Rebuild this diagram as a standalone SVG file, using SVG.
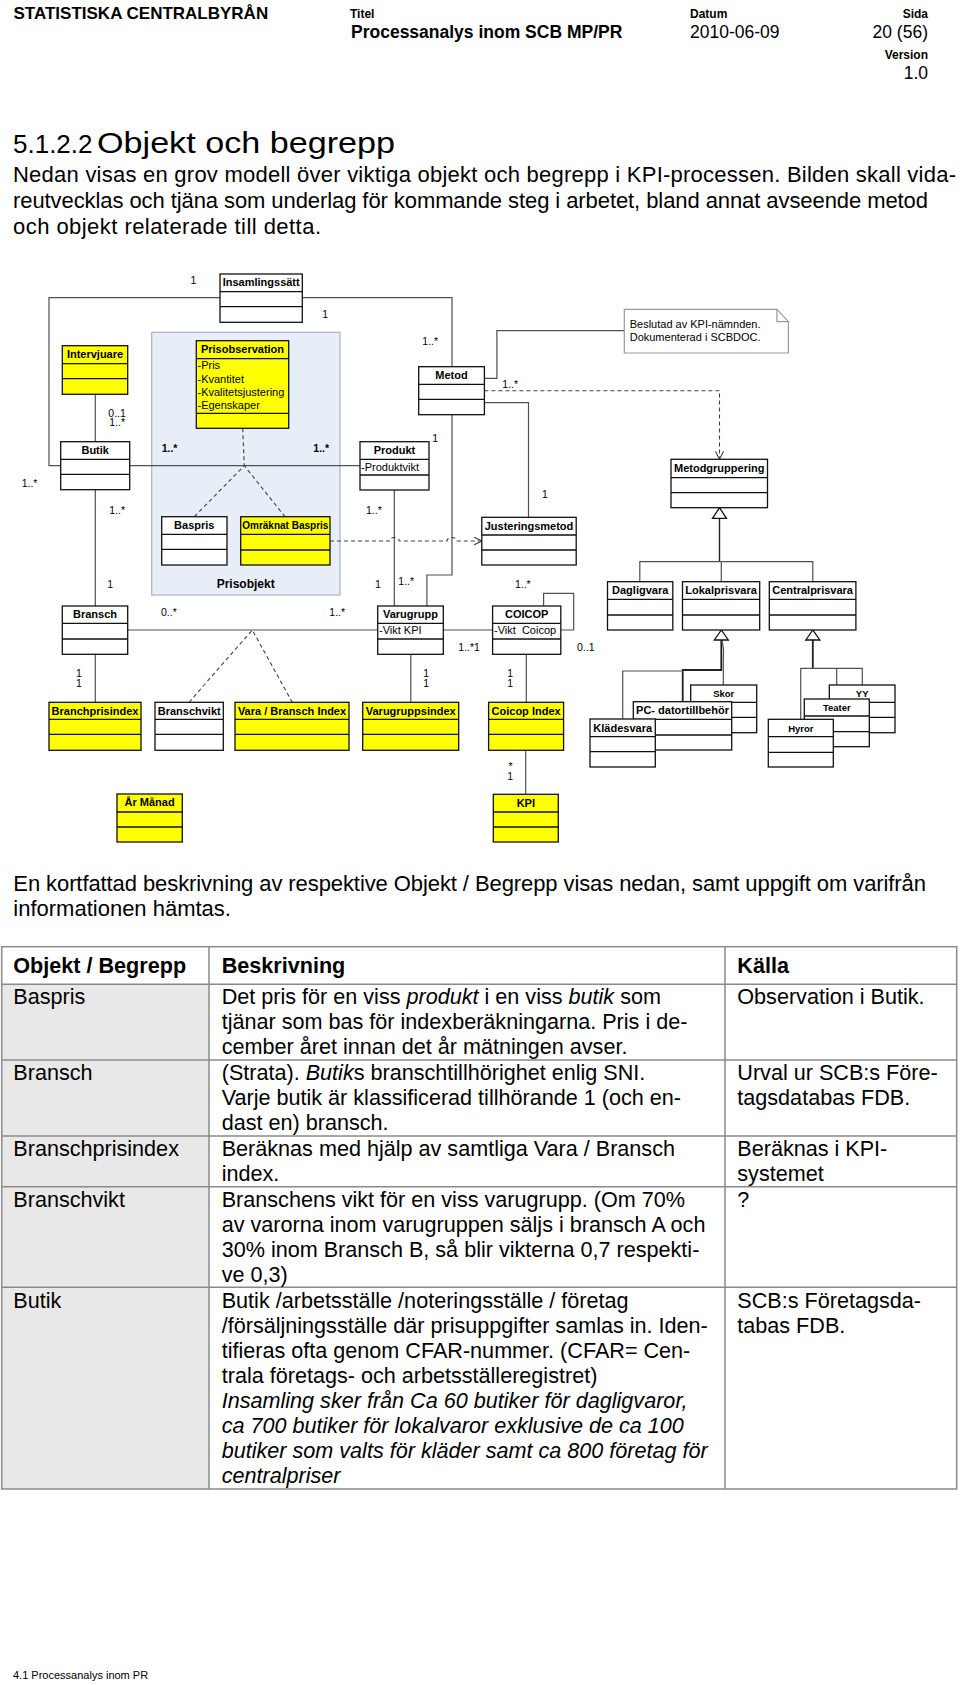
<svg xmlns="http://www.w3.org/2000/svg" width="960" height="1685" viewBox="0 0 960 1685">
<style>
text{font-family:'Liberation Sans',Arial,sans-serif;fill:#000}
.b{stroke:#111;stroke-width:1.3}
.w{fill:#fff}
.y{fill:#ffff00}
.dv{fill:none;stroke:#111;stroke-width:1.3}
.cl{fill:none;stroke:#505050;stroke-width:1.2}
.dl{fill:none;stroke:#404040;stroke-width:1.1;stroke-dasharray:4 3}
.hd{font-size:11px;font-weight:bold;text-anchor:middle}
.hs{font-size:9.5px;font-weight:bold;text-anchor:middle}
.at{font-size:11px;white-space:pre}
.m{font-size:10.5px}
.mb{font-size:10.5px;font-weight:bold}
.t{font-size:21.6px}
.p{font-size:22px}
.tb{font-size:21.6px;font-weight:bold}
.i{font-style:italic}
.tl{stroke:#8a8a8a;stroke-width:1.5;fill:none}
</style>
<defs>
<marker id="oa" markerWidth="10" markerHeight="10" refX="8" refY="4" orient="auto" markerUnits="userSpaceOnUse">
<path d="M0,0 L8,4 L0,8" fill="none" stroke="#404040" stroke-width="1.1"/>
</marker>
</defs>
<rect width="960" height="1685" fill="#fff"/>

<!-- page header -->
<g id="page-header">
<text x="13.5" y="19" style="font-size:17px;font-weight:bold">STATISTISKA CENTRALBYRÅN</text>
<text x="350" y="18" style="font-size:12px;font-weight:bold">Titel</text>
<text x="351" y="37.5" style="font-size:17.5px;font-weight:bold">Processanalys inom SCB MP/PR</text>
<text x="690" y="18" style="font-size:12px;font-weight:bold">Datum</text>
<text x="690" y="37.5" style="font-size:17.5px">2010-06-09</text>
<text x="928" y="18" style="font-size:12px;font-weight:bold;text-anchor:end">Sida</text>
<text x="928" y="37.5" style="font-size:17.5px;text-anchor:end">20 (56)</text>
<text x="928" y="59" style="font-size:12px;font-weight:bold;text-anchor:end">Version</text>
<text x="928" y="79" style="font-size:17.5px;text-anchor:end">1.0</text>
</g>

<g id="intro">
<text x="13" y="153" style="font-size:26px">5.1.2.2</text>
<text x="97" y="153" style="font-size:29px" textLength="298" lengthAdjust="spacingAndGlyphs">Objekt och begrepp</text>
<text x="13" y="182" class="p" textLength="943" lengthAdjust="spacing">Nedan visas en grov modell över viktiga objekt och begrepp i KPI-processen. Bilden skall vida-</text>
<text x="13" y="208" class="p" textLength="915" lengthAdjust="spacing">reutvecklas och tjäna som underlag för kommande steg i arbetet, bland annat avseende metod</text>
<text x="13" y="234" class="p" textLength="308" lengthAdjust="spacing">och objekt relaterade till detta.</text>
</g>

<!-- package -->
<g id="prisobjekt-package">
<rect x="151.7" y="332.3" width="188.3" height="262.7" fill="#e8eef8" stroke="#a9b1c2" stroke-width="1.2"/>
<text x="245.7" y="588" style="font-size:12px;font-weight:bold;text-anchor:middle">Prisobjekt</text>
</g>

<!-- connectors -->
<g id="connectors">
<path class="cl" d="M220,297.7 H49 V465.7 H60.7"/>
<path class="cl" d="M302.3,297.7 H452 V366.7"/>
<path class="cl" d="M95.3,394.3 V441.7"/>
<path class="cl" d="M129.7,465.7 H360"/>
<path class="cl" d="M484.4,378.3 H496.9 V330.7 H624.3"/>
<path class="cl" d="M484.4,402.7 H528.5 V517.3"/>
<path class="dl" d="M484.4,390.7 H719.5 V459.3" marker-end="url(#oa)"/>
<path class="cl" d="M452,414.7 V575 H426.9 V606"/>
<path class="cl" d="M394.3,490 V606"/>
<path class="cl" d="M95.3,489.7 V606"/>
<path class="dl" d="M330,541 H389.3 a5,3.5 0 0 1 10,0 H447 a5,3.5 0 0 1 10,0 H481.8" marker-end="url(#oa)"/>
<path class="dl" d="M242.7,428.3 L244.3,465.7 M194.3,516.7 L244.3,465.7 L285,516.7"/>
<path class="cl" d="M127.7,630 H377.7"/>
<path class="cl" d="M443.3,630 H492.6"/>
<path class="cl" d="M543.6,606 V593.3 H573.7 V630 H560.8"/>
<path class="dl" d="M189,702.3 L252.3,630 L292.3,702.3"/>
<path class="cl" d="M95.3,654.3 V702.3"/>
<path class="cl" d="M410.8,654.3 V702.3"/>
<path class="cl" d="M526.3,654.3 V702.3"/>
<path class="cl" d="M525.7,750.3 V794.3"/>
<path class="cl" style="stroke:#222;stroke-width:1.4" d="M719.5,518.3 V561.7"/>
<path class="cl" d="M639.8,581.7 V561.7 H812.8 V581.7 M721.3,561.7 V581.7"/>
<path class="cl" style="stroke:#222;stroke-width:1.8" d="M721.3,640 V670 H682.7 V701.7"/>
<path class="cl" d="M682.7,671 H622.7 V719"/>
<path class="cl" d="M722,640 Q724.5,650 723.3,660 V685"/>
<path class="cl" style="stroke:#222;stroke-width:1.8" d="M812.8,640 V668.3"/>
<path class="cl" d="M800.7,719.3 V668.3 H862.3 V685 M836.7,668.3 V699"/>
<polygon points="719.5,507.7 712.5,518.3 726.5,518.3" fill="#fff" stroke="#111" stroke-width="1.3"/>
<polygon points="721.3,630 714.3,640 728.3,640" fill="#fff" stroke="#111" stroke-width="1.3"/>
<polygon points="812.8,630 805.8,640 819.8,640" fill="#fff" stroke="#111" stroke-width="1.3"/>
</g>

<!-- multiplicities -->
<g id="multiplicities">
<text class="m" x="190.5" y="284">1</text>
<text class="m" x="322.3" y="318">1</text>
<text class="m" x="108.3" y="416.7">0..1</text>
<text class="m" x="109.3" y="426">1..*</text>
<text class="mb" x="161.7" y="452.3">1..*</text>
<text class="mb" x="313.3" y="452.3">1..*</text>
<text class="m" x="432.2" y="441.7">1</text>
<text class="m" x="21.7" y="486.7">1..*</text>
<text class="m" x="109.3" y="514">1..*</text>
<text class="m" x="366" y="514">1..*</text>
<text class="m" x="422.3" y="345">1..*</text>
<text class="m" x="502.3" y="388.3">1..*</text>
<text class="m" x="541.9" y="498.3">1</text>
<text class="m" x="107.2" y="588.3">1</text>
<text class="m" x="161" y="615.7">0..*</text>
<text class="m" x="329.3" y="615.7">1..*</text>
<text class="m" x="374.9" y="588.3">1</text>
<text class="m" x="398.3" y="585">1..*</text>
<text class="m" x="514.9" y="588.3">1..*</text>
<text class="m" x="458.3" y="651">1..*1</text>
<text class="m" x="577" y="651">0..1</text>
<text class="m" x="75.9" y="676.7">1</text>
<text class="m" x="75.9" y="686.7">1</text>
<text class="m" x="423.2" y="676.7">1</text>
<text class="m" x="423.2" y="686.7">1</text>
<text class="m" x="507.2" y="676.7">1</text>
<text class="m" x="507.2" y="686.7">1</text>
<text class="m" x="508.5" y="770">*</text>
<text class="m" x="507.2" y="780">1</text>
</g>

<!-- note -->
<g id="note">
<path d="M624.3,309.3 H776.9 L788.4,321.7 V353 H624.3 Z" fill="#fff" stroke="#9a9a9a" stroke-width="1.2"/>
<path d="M776.9,309.3 V321.7 H788.4" fill="none" stroke="#9a9a9a" stroke-width="1.2"/>
<text class="at" x="629.7" y="327.7">Beslutad av KPI-nämnden.</text>
<text class="at" x="629.7" y="341">Dokumenterad i SCBDOC.</text>
</g>

<!-- classes -->
<g id="insamlingssatt"><rect class="b w" x="220" y="274" width="82.3" height="48.3"/><path class="dv" d="M220,291.7 H302.3 M220,306.7 H302.3"/><text class="hd" x="261.2" y="286.3">Insamlingssätt</text></g>
<g id="intervjuare"><rect class="b y" x="62.3" y="345.7" width="65.4" height="48.6"/><path class="dv" d="M62.3,363.7 H127.7 M62.3,378.7 H127.7"/><text class="hd" x="95" y="358">Intervjuare</text></g>
<g id="prisobservation"><rect class="b y" x="196.3" y="340.7" width="92.4" height="87.6"/><path class="dv" d="M196.3,358.7 H288.7 M196.3,413.3 H288.7"/><text class="hd" x="242.5" y="353.3">Prisobservation</text>
<text class="at" x="197.5" y="369.3">-Pris</text><text class="at" x="197.5" y="382.6">-Kvantitet</text><text class="at" x="197.5" y="395.9">-Kvalitetsjustering</text><text class="at" x="197.5" y="409">-Egenskaper</text></g>
<g id="metod"><rect class="b w" x="418.7" y="366.7" width="65.7" height="48"/><path class="dv" d="M418.7,384.3 H484.4 M418.7,399.3 H484.4"/><text class="hd" x="451.5" y="379">Metod</text></g>
<g id="butik"><rect class="b w" x="60.7" y="441.7" width="69" height="48"/><path class="dv" d="M60.7,459.3 H129.7 M60.7,474.3 H129.7"/><text class="hd" x="95.2" y="454">Butik</text></g>
<g id="produkt"><rect class="b w" x="360" y="441.7" width="69" height="48.3"/><path class="dv" d="M360,459.3 H429 M360,475 H429"/><text class="hd" x="394.5" y="454">Produkt</text><text class="at" x="361" y="470.7">-Produktvikt</text></g>
<g id="metodgruppering"><rect class="b w" x="671" y="459.3" width="96.5" height="48.4"/><path class="dv" d="M671,477.7 H767.5 M671,492.7 H767.5"/><text class="hd" x="719.2" y="471.6">Metodgruppering</text></g>
<g id="baspris"><rect class="b w" x="161.7" y="516.7" width="65.3" height="48.3"/><path class="dv" d="M161.7,534.3 H227 M161.7,549.3 H227"/><text class="hd" x="194.3" y="529">Baspris</text></g>
<g id="omraknat-baspris"><rect class="b y" x="240.7" y="516.7" width="89.3" height="48.3"/><path class="dv" d="M240.7,534.3 H330 M240.7,550 H330"/><text class="hd" style="font-size:10px" x="285.3" y="529">Omräknat Baspris</text></g>
<g id="justeringsmetod"><rect class="b w" x="481.8" y="517.3" width="94.4" height="47.7"/><path class="dv" d="M481.8,535 H576.2 M481.8,550 H576.2"/><text class="hd" x="529" y="529.6">Justeringsmetod</text></g>
<g id="dagligvara"><rect class="b w" x="607.5" y="581.7" width="65.3" height="48.3"/><path class="dv" d="M607.5,599.3 H672.8 M607.5,615 H672.8"/><text class="hd" x="640.2" y="594">Dagligvara</text></g>
<g id="lokalprisvara"><rect class="b w" x="682.5" y="581.7" width="77.2" height="48.3"/><path class="dv" d="M682.5,599.3 H759.7 M682.5,615 H759.7"/><text class="hd" x="721.1" y="594">Lokalprisvara</text></g>
<g id="centralprisvara"><rect class="b w" x="769.3" y="581.7" width="86.6" height="48.3"/><path class="dv" d="M769.3,599.3 H855.9 M769.3,615 H855.9"/><text class="hd" x="812.6" y="594">Centralprisvara</text></g>
<g id="bransch"><rect class="b w" x="62.3" y="606" width="65.4" height="48.3"/><path class="dv" d="M62.3,623.3 H127.7 M62.3,639 H127.7"/><text class="hd" x="95" y="618.3">Bransch</text></g>
<g id="varugrupp"><rect class="b w" x="377.7" y="606" width="65.6" height="48.3"/><path class="dv" d="M377.7,623.3 H443.3 M377.7,639 H443.3"/><text class="hd" x="410.5" y="618.3">Varugrupp</text><text class="at" x="379" y="634.3">-Vikt KPI</text></g>
<g id="coicop"><rect class="b w" x="492.6" y="606" width="68.2" height="48.3"/><path class="dv" d="M492.6,623.3 H560.8 M492.6,639 H560.8"/><text class="hd" x="526.7" y="618.3">COICOP</text><text class="at" x="494" y="634.3">-Vikt  Coicop</text></g>
<g id="skor"><rect class="b w" x="690.7" y="685" width="66" height="47.7"/><path class="dv" d="M690.7,702.3 H756.7 M690.7,717.3 H756.7"/><text class="hs" x="723.7" y="697">Skor</text></g>
<g id="yy"><rect class="b w" x="829.3" y="685" width="65.7" height="47.7"/><path class="dv" d="M829.3,702.3 H895 M829.3,717.3 H895"/><text class="hs" x="862.2" y="697">YY</text></g>
<g id="teater"><rect class="b w" x="804.3" y="699" width="65" height="47.7"/><path class="dv" d="M804.3,716 H869.3 M804.3,731.7 H869.3"/><text class="hs" x="836.8" y="711">Teater</text></g>
<g id="pc-datortillbehor"><rect class="b w" x="633.3" y="701.7" width="98.4" height="48.3"/><path class="dv" d="M633.3,719.3 H731.7 M633.3,735 H731.7"/><text class="hd" x="682.5" y="714">PC- datortillbehör</text></g>
<g id="hyror"><rect class="b w" x="768.3" y="719.3" width="65" height="47.7"/><path class="dv" d="M768.3,736.7 H833.3 M768.3,752.3 H833.3"/><text class="hs" x="800.8" y="731.5">Hyror</text></g>
<g id="kladesvara"><rect class="b w" x="590" y="719" width="65.3" height="48"/><path class="dv" d="M590,736.7 H655.3 M590,751.7 H655.3"/><text class="hd" x="622.7" y="731.5">Klädesvara</text></g>
<g id="branchprisindex"><rect class="b y" x="49" y="702.3" width="92" height="48"/><path class="dv" d="M49,719.3 H141 M49,734.3 H141"/><text class="hd" x="95" y="714.6">Branchprisindex</text></g>
<g id="branschvikt"><rect class="b w" x="155" y="702.3" width="68.3" height="48"/><path class="dv" d="M155,719.3 H223.3 M155,734.3 H223.3"/><text class="hd" x="189.2" y="714.6">Branschvikt</text></g>
<g id="vara-bransch-index"><rect class="b y" x="235" y="702.3" width="114" height="48"/><path class="dv" d="M235,719.3 H349 M235,734.3 H349"/><text class="hd" x="292" y="714.6">Vara / Bransch Index</text></g>
<g id="varugruppsindex"><rect class="b y" x="362.7" y="702.3" width="96" height="48"/><path class="dv" d="M362.7,719.3 H458.7 M362.7,734.3 H458.7"/><text class="hd" x="410.7" y="714.6">Varugruppsindex</text></g>
<g id="coicop-index"><rect class="b y" x="488.6" y="702.3" width="75" height="48"/><path class="dv" d="M488.6,719.3 H563.6 M488.6,734.3 H563.6"/><text class="hd" x="526.1" y="714.6">Coicop Index</text></g>
<g id="ar-manad"><rect class="b y" x="117" y="794" width="65.3" height="48"/><path class="dv" d="M117,812 H182.3 M117,827 H182.3"/><text class="hd" x="149.6" y="806.3">År Månad</text></g>
<g id="kpi"><rect class="b y" x="493.3" y="794.3" width="65" height="47.7"/><path class="dv" d="M493.3,812 H558.3 M493.3,827 H558.3"/><text class="hd" x="525.8" y="806.5">KPI</text></g>

<g id="lead">
<text x="13.3" y="891" class="p" textLength="912.7" lengthAdjust="spacing">En kortfattad beskrivning av respektive Objekt / Begrepp visas nedan, samt uppgift om varifrån</text>
<text x="13.3" y="916" class="p">informationen hämtas.</text>
</g>

<!-- table -->
<g id="table">
<rect x="1.7" y="984.3" width="207.3" height="504.7" fill="#e8e8e8"/>
<rect class="tl" x="1.7" y="946.7" width="955" height="542.3"/>
<path class="tl" d="M1.7,984.3 H956.7 M1.7,1060 H956.7 M1.7,1136 H956.7 M1.7,1186.7 H956.7 M1.7,1287.3 H956.7 M209,946.7 V1489 M725,946.7 V1489"/>
<text class="tb" x="13.3" y="973.3">Objekt / Begrepp</text>
<text class="tb" x="221.7" y="973.3">Beskrivning</text>
<text class="tb" x="737.3" y="973.3">Källa</text>

<text class="t" x="13.3" y="1004.3">Baspris</text>
<text class="t" x="221.7" y="1004.3">Det pris för en viss <tspan class="i">produkt</tspan> i en viss <tspan class="i">butik</tspan> som</text>
<text class="t" x="221.7" y="1029.3">tjänar som bas för indexberäkningarna. Pris i de-</text>
<text class="t" x="221.7" y="1054.3">cember året innan det år mätningen avser.</text>
<text class="t" x="737.3" y="1004.3">Observation i Butik.</text>

<text class="t" x="13.3" y="1080">Bransch</text>
<text class="t" x="221.7" y="1080">(Strata). <tspan class="i">Butik</tspan>s branschtillhörighet enlig SNI.</text>
<text class="t" x="221.7" y="1105">Varje butik är klassificerad tillhörande 1 (och en-</text>
<text class="t" x="221.7" y="1130">dast en) bransch.</text>
<text class="t" x="737.3" y="1080">Urval ur SCB:s Före-</text>
<text class="t" x="737.3" y="1105">tagsdatabas FDB.</text>

<text class="t" x="13.3" y="1156">Branschprisindex</text>
<text class="t" x="221.7" y="1156">Beräknas med hjälp av samtliga Vara / Bransch</text>
<text class="t" x="221.7" y="1180.7">index.</text>
<text class="t" x="737.3" y="1156">Beräknas i KPI-</text>
<text class="t" x="737.3" y="1180.7">systemet</text>

<text class="t" x="13.3" y="1206.7">Branschvikt</text>
<text class="t" x="221.7" y="1206.7">Branschens vikt för en viss varugrupp. (Om 70%</text>
<text class="t" x="221.7" y="1231.7">av varorna inom varugruppen säljs i bransch A och</text>
<text class="t" x="221.7" y="1256.7">30% inom Bransch B, så blir vikterna 0,7 respekti-</text>
<text class="t" x="221.7" y="1281.7">ve 0,3)</text>
<text class="t" x="737.3" y="1206.7">?</text>

<text class="t" x="13.3" y="1308.3">Butik</text>
<text class="t" x="221.7" y="1308.3">Butik /arbetsställe /noteringsställe / företag</text>
<text class="t" x="221.7" y="1333.3">/försäljningsställe där prisuppgifter samlas in. Iden-</text>
<text class="t" x="221.7" y="1358.3">tifieras ofta genom CFAR-nummer. (CFAR= Cen-</text>
<text class="t" x="221.7" y="1383.3">trala företags- och arbetsställeregistret)</text>
<text class="t i" x="221.7" y="1408.3">Insamling sker från Ca 60 butiker för dagligvaror,</text>
<text class="t i" x="221.7" y="1433.3">ca 700 butiker för lokalvaror exklusive de ca 100</text>
<text class="t i" x="221.7" y="1458.3">butiker som valts för kläder samt ca 800 företag för</text>
<text class="t i" x="221.7" y="1483.3">centralpriser</text>
<text class="t" x="737.3" y="1308.3">SCB:s Företagsda-</text>
<text class="t" x="737.3" y="1333.3">tabas FDB.</text>
</g>

<g id="footer">
<text x="13" y="1679" style="font-size:11px">4.1 Processanalys inom PR</text>
</g>
</svg>
